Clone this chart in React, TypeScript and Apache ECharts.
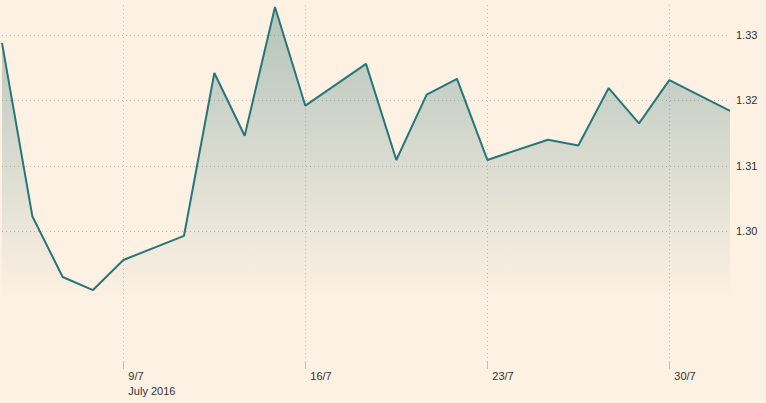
import React, { useEffect, useRef } from "react";
import * as echarts from "echarts";

const categories = [
  "4/7", "5/7", "6/7", "7/7", "9/7", "10/7", "11/7", "12/7", "13/7", "14/7",
  "16/7", "17/7", "18/7", "19/7", "20/7", "21/7", "23/7", "24/7", "25/7", "26/7",
  "27/7", "28/7", "30/7", "31/7", "1/8",
];
const values: (number | null)[] = [
  1.3288, 1.3023, 1.293, 1.291, 1.2956, null, 1.2993, 1.3242, 1.3146, 1.3343,
  1.3192, null, 1.3256, 1.3109, 1.3209, 1.3233, 1.3109, null, 1.314, 1.3131,
  1.3219, 1.3165, 1.3231, null, 1.3184,
];
const xTickLabels = ["9/7", "16/7", "23/7", "30/7"];
const yTickLabels = [1.3, 1.31, 1.32, 1.33];
const subLabel = "July 2016";

export default function App() {
  const ref = useRef<HTMLDivElement>(null);
  useEffect(() => {
    if (!ref.current) return;
    const chart = echarts.init(ref.current, undefined, { renderer: "svg" });
    const isTick = (_i: number, v: string) => xTickLabels.includes(v);
    const textStyle = {
      fontFamily: "'Liberation Sans', Arial, sans-serif",
      fontSize: 11,
      color: "#333",
    };
    chart.setOption({
      animation: false,
      backgroundColor: "#fdf1e3",
      grid: { left: 2, right: 36, top: 5, bottom: 41, containLabel: false },
      xAxis: {
        type: "category",
        data: categories,
        boundaryGap: false,
        axisLine: { show: false },
        axisTick: {
          show: true,
          interval: isTick,
          length: 7,
          lineStyle: { color: "#c4bcb2", width: 1 },
        },
        splitLine: {
          show: true,
          interval: isTick,
          lineStyle: { color: "#c4bcb2", type: [1, 3], width: 1 },
        },
        axisLabel: {
          interval: isTick,
          ...textStyle,
          align: "left",
          verticalAlign: "top",
          padding: [0, 0, 0, 5],
          margin: 6,
          lineHeight: 15,
          formatter: (v: string) =>
            v === xTickLabels[0] ? `${v}\n${subLabel}` : v,
        },
      },
      yAxis: {
        type: "value",
        position: "right",
        min: 1.28,
        max: 1.3346,
        interval: 0.01,
        axisLine: { show: false },
        axisTick: { show: false },
        splitLine: {
          show: true,
          showMaxLine: false,
          lineStyle: {
            color: [
              "rgba(0,0,0,0)",
              "rgba(0,0,0,0)",
              "#c4bcb2",
              "#c4bcb2",
              "#c4bcb2",
              "#c4bcb2",
            ],
            type: [1, 3],
            width: 1,
          },
        },
        axisLabel: {
          ...textStyle,
          margin: 6,
          showMaxLabel: false,
          formatter: (v: number) =>
            yTickLabels.some((t) => Math.abs(t - v) < 1e-6) ? v.toFixed(2) : "",
        },
      },
      series: [
        {
          type: "line",
          data: values,
          connectNulls: true,
          symbol: "none",
          lineStyle: { color: "#26767a", width: 2 },
          areaStyle: {
            color: {
              type: "linear",
              x: 0,
              y: 0,
              x2: 0,
              y2: 300,
              global: true,
              colorStops: [
                { offset: 0, color: "rgba(38,108,110,0.5)" },
                { offset: 1, color: "rgba(38,108,110,0)" },
              ],
            },
          },
        },
      ],
    });
    return () => chart.dispose();
  }, []);
  return (
    <div
      ref={ref}
      style={{ position: "fixed", left: 0, top: 0, width: 766, height: 403 }}
    />
  );
}
